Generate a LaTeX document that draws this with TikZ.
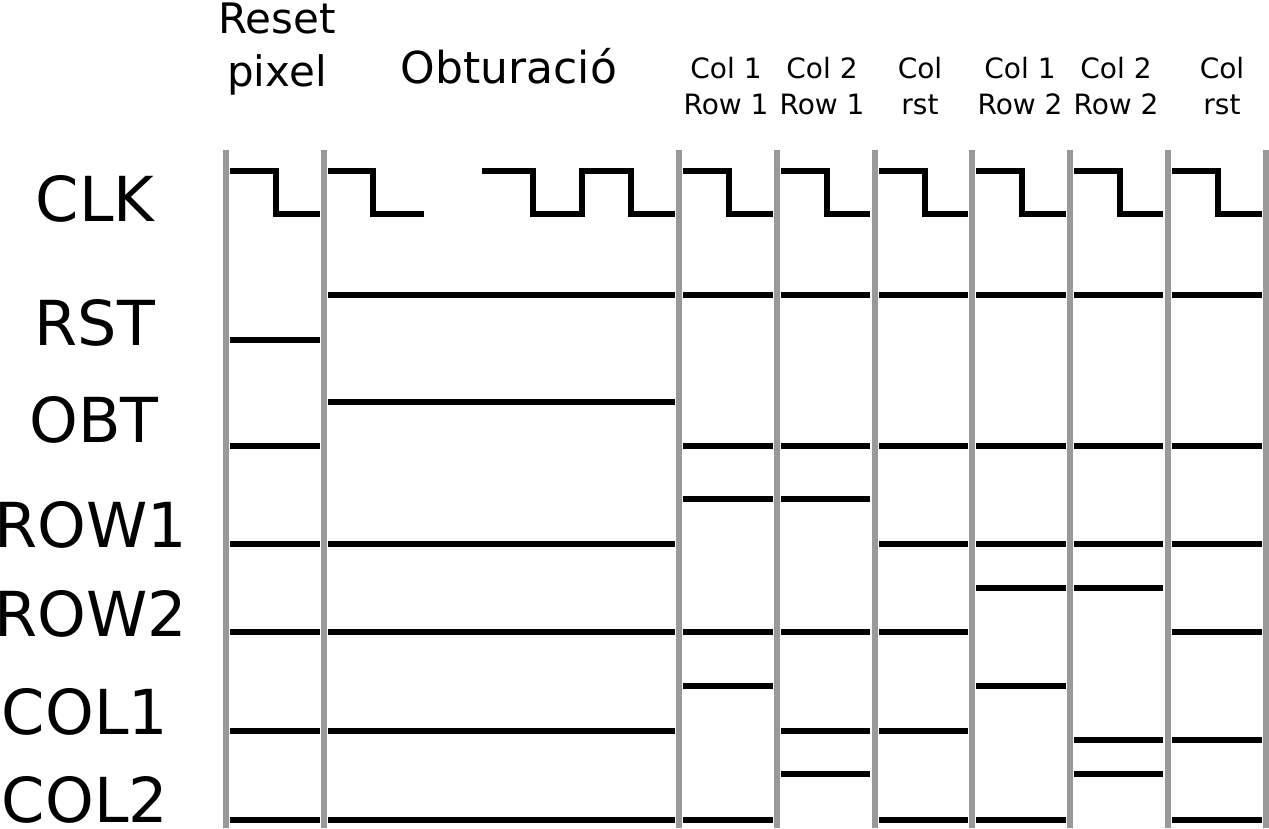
\documentclass[tikz,border=0pt]{standalone}
\usepackage{fontspec}
\setmainfont{DejaVu Sans}
\definecolor{gridgrey}{HTML}{999999}

\begin{document}
\begin{tikzpicture}[x=1pt,y=-1pt,
    sig/.style={line width=5.5pt,black},
    boundary/.style={line width=6pt,gridgrey},
    signame/.style={anchor=base,inner sep=0pt,font=\fontsize{62}{70}\selectfont},
    phase/.style={anchor=base,inner sep=0pt,font=\fontsize{42}{50}\selectfont},
    slot/.style={anchor=base,inner sep=0pt,font=\fontsize{28}{32}\selectfont}]
      \useasboundingbox (0,0) rectangle (1269,828);
      % phase boundaries
      \foreach \g in {226,323.5,679,776.75,874.5,972.25,1070,1167.75,1265.5}
        \draw[boundary] (\g,150) -- (\g,828);
      % signal names
      \node[signame] (clk)  at (95,221) {CLK};
      \node[signame] (rst)  at (95,345) {RST};
      \node[signame] (obt)  at (94,442) {OBT};
      \node[signame] (row1) at (91,547) {ROW1};
      \node[signame] (row2) at (91,636) {ROW2};
      \node[signame] (col1) at (85,734) {COL1};
      \node[signame] (col2) at (85,822) {COL2};
      % phase titles
      \node[phase] (reset) at (277,33) {Reset};
      \node[phase] (pixel) at (277,86) {pixel};
      \node[phase,font=\fontsize{44}{50}\selectfont] (obtur) at (509,83) {Obturació};
      \node[slot] (c1r1a) at (726,78) {Col 1};
      \node[slot] (c1r1b) at (726,114) {Row 1};
      \node[slot] (c2r1a) at (822,78) {Col 2};
      \node[slot] (c2r1b) at (822,114) {Row 1};
      \node[slot] (crsta) at (920,78) {Col};
      \node[slot] (crstb) at (920,114) {rst};
      \node[slot] (c1r2a) at (1020,78) {Col 1};
      \node[slot] (c1r2b) at (1020,114) {Row 2};
      \node[slot] (c2r2a) at (1116,78) {Col 2};
      \node[slot] (c2r2b) at (1116,114) {Row 2};
      \node[slot] (crstc) at (1222,78) {Col};
      \node[slot] (crstd) at (1222,114) {rst};
      % clock
      \draw[sig] (328,171) -- (373,171) -- (373,214) -- (424,214);
      \draw[sig] (482,171) -- (533,171) -- (533,214) -- (582,214)
        -- (582,171) -- (631,171) -- (631,214) -- (675,214);
      \foreach \a/\b in {230/320,683/773,781/870,879/968,976/1066,1074/1163,1172/1262}
        \draw[sig] (\a,171) -- (\a+46,171) -- (\a+46,214) -- (\b,214);
      % RST
      \foreach \a/\b/\y in {230/320/340,328/675/295,683/773/295,781/870/295,
          879/968/295,976/1066/295,1074/1163/295,1172/1262/295}
        \draw[sig] (\a,\y) -- (\b,\y);
      % OBT
      \foreach \a/\b/\y in {230/320/446,328/675/402,683/773/446,781/870/446,
          879/968/446,976/1066/446,1074/1163/446,1172/1262/446}
        \draw[sig] (\a,\y) -- (\b,\y);
      % ROW1
      \foreach \a/\b/\y in {230/320/544,328/675/544,683/773/499,781/870/499,
          879/968/544,976/1066/544,1074/1163/544,1172/1262/544}
        \draw[sig] (\a,\y) -- (\b,\y);
      % ROW2
      \foreach \a/\b/\y in {230/320/632,328/675/632,683/773/632,781/870/632,
          879/968/632,976/1066/588,1074/1163/588,1172/1262/632}
        \draw[sig] (\a,\y) -- (\b,\y);
      % COL1
      \foreach \a/\b/\y in {230/320/731,328/675/731,683/773/686,781/870/731,
          879/968/731,976/1066/686,1074/1163/740,1172/1262/740}
        \draw[sig] (\a,\y) -- (\b,\y);
      % COL2
      \foreach \a/\b/\y in {230/320/820,328/675/820,683/773/820,781/870/774,
          879/968/820,976/1066/820,1074/1163/774,1172/1262/820}
        \draw[sig] (\a,\y) -- (\b,\y);
    \end{tikzpicture}
\end{document}
